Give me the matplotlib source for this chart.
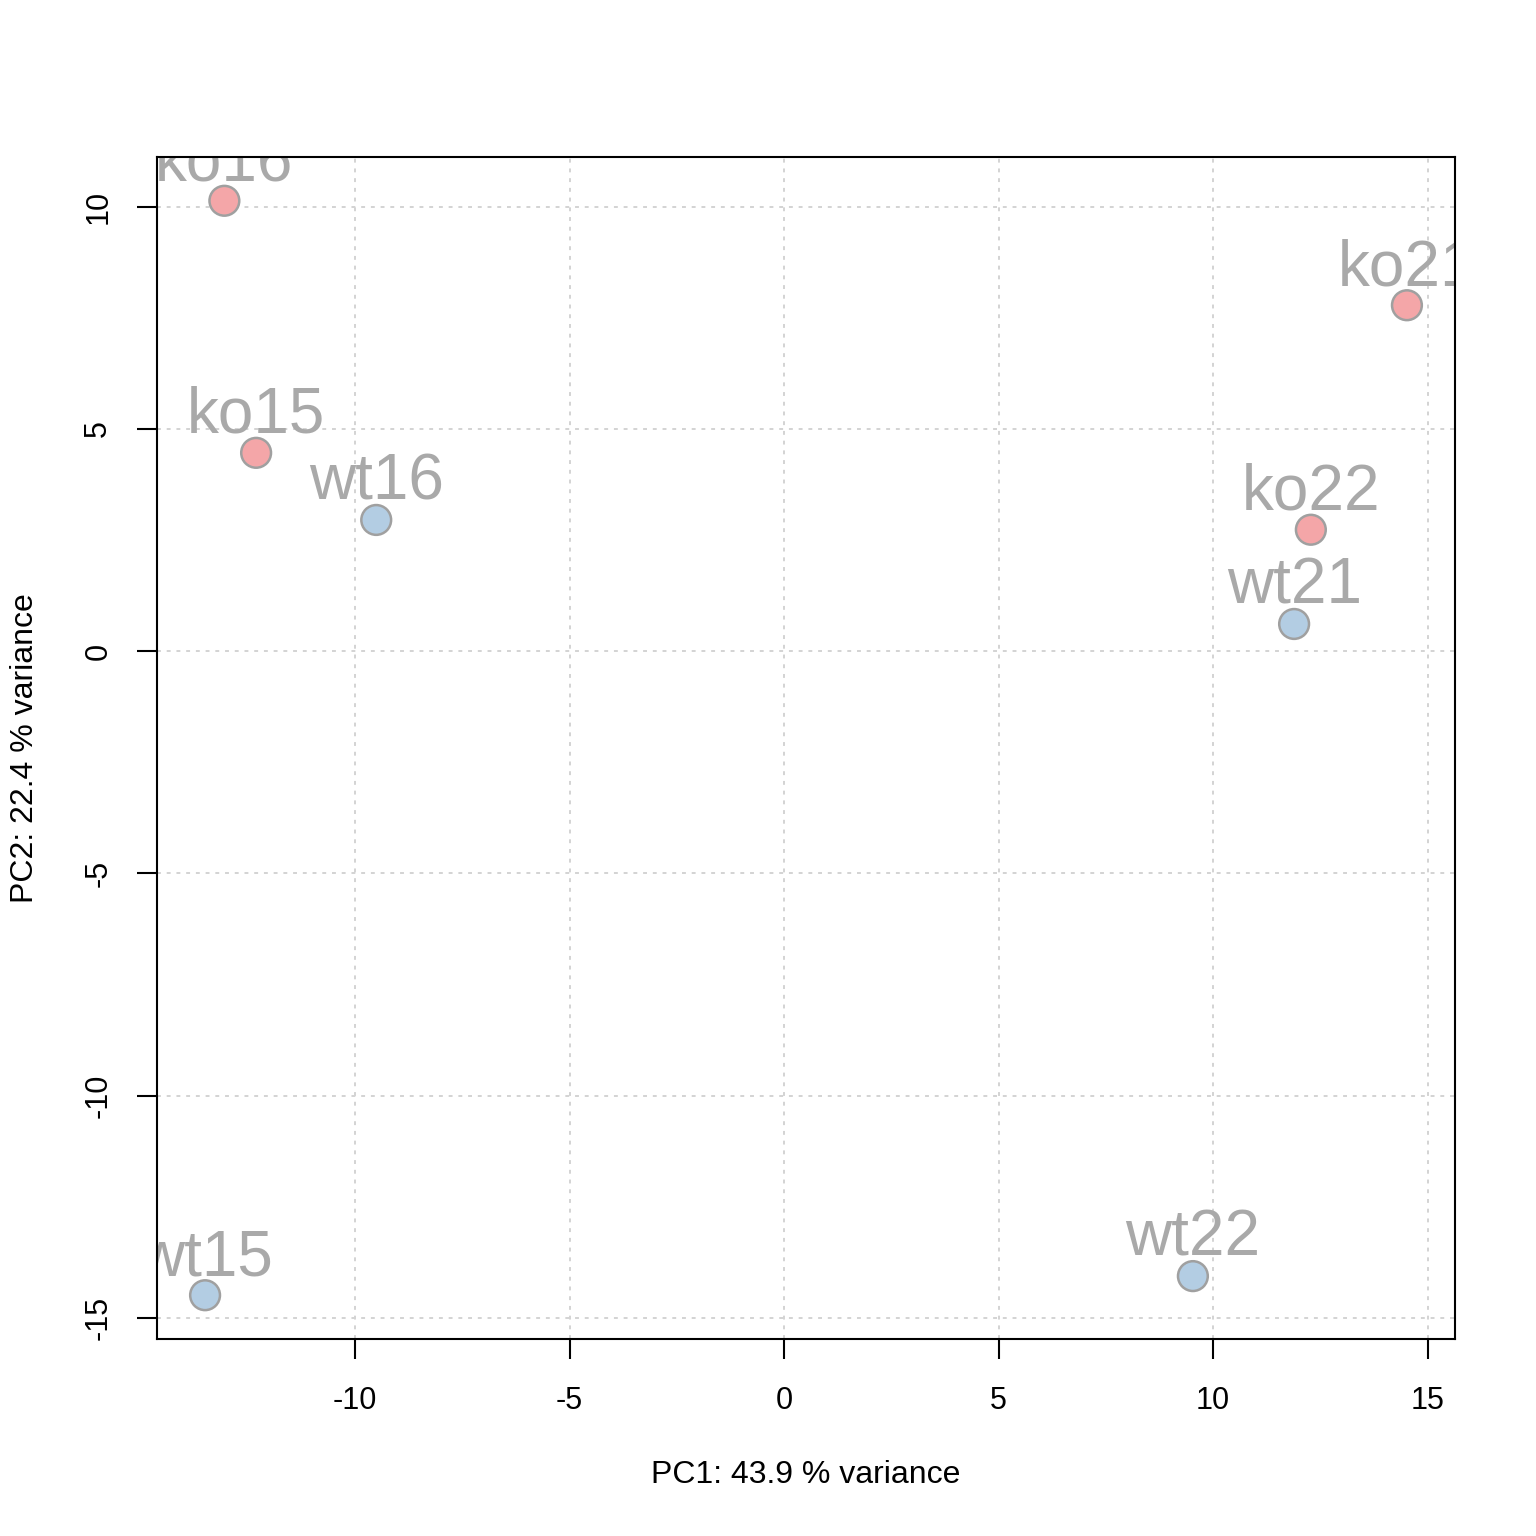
import matplotlib
matplotlib.use("Agg")
import matplotlib.pyplot as plt

plt.rcParams['font.family'] = ['Liberation Sans', 'DejaVu Sans']

samples = ["ko16", "ko21", "ko15", "wt16", "ko22", "wt21", "wt15", "wt22"]
pc1 = [-13.05, 14.52, -12.31, -9.51, 12.28, 11.89, -13.50, 9.53]
pc2 = [10.13, 7.78, 4.46, 2.95, 2.73, 0.61, -14.49, -14.06]
groups = ["ko", "ko", "ko", "wt", "ko", "wt", "wt", "wt"]
group_colors = {"ko": "#F4A6A8", "wt": "#B3CDE3"}
xticks = [-10, -5, 0, 5, 10, 15]
yticks = [-15, -10, -5, 0, 5, 10]
xlabel = "PC1: 43.9 % variance"
ylabel = "PC2: 22.4 % variance"

fig = plt.figure(figsize=(15.36, 15.36), dpi=100)
ax = fig.add_axes([157/1536, 1-1339/1536, (1455-157)/1536, (1339-157)/1536])

xr = max(pc1) - min(pc1)
yr = max(pc2) - min(pc2)
ax.set_xlim(min(pc1) - 0.04*xr, max(pc1) + 0.04*xr)
ax.set_ylim(min(pc2) - 0.04*yr, max(pc2) + 0.04*yr)

for v in xticks:
    ax.axvline(v, color="#D3D3D3", lw=1.4, ls=(0, (2, 3)), zorder=0)
for v in yticks:
    ax.axhline(v, color="#D3D3D3", lw=1.4, ls=(0, (2, 3)), zorder=0)

ax.scatter(pc1, pc2, s=460, c=[group_colors[g] for g in groups],
           edgecolors="#A0A0A0", linewidths=1.8, zorder=3)

for name, x, y in zip(samples, pc1, pc2):
    t = ax.annotate(name, (x, y), xytext=(0, 14.5), textcoords="offset points",
                    ha="center", va="baseline", fontsize=46, color="#A9A9A9",
                    zorder=2, annotation_clip=False)
    t.set_clip_on(True)
    t.set_clip_box(ax.bbox)

ax.set_xticks(xticks)
ax.set_yticks(yticks)
ax.set_xticklabels([str(v) for v in xticks])
ax.set_yticklabels([str(v) for v in yticks], rotation=90, va="center")
ax.tick_params(axis="both", direction="out", length=14.5, width=1.5,
               labelsize=22, colors="black")
ax.tick_params(axis="x", pad=19)
ax.tick_params(axis="y", pad=17)
for sp in ax.spines.values():
    sp.set_linewidth(1.5)
    sp.set_color("black")

fig.text(806/1536, 1-1475/1536, xlabel, ha="center", va="center", fontsize=23)
fig.text(25/1536, 1-748/1536, ylabel, ha="center", va="center", fontsize=23, rotation=90)

fig.savefig("out.png", dpi=100, facecolor="white")
